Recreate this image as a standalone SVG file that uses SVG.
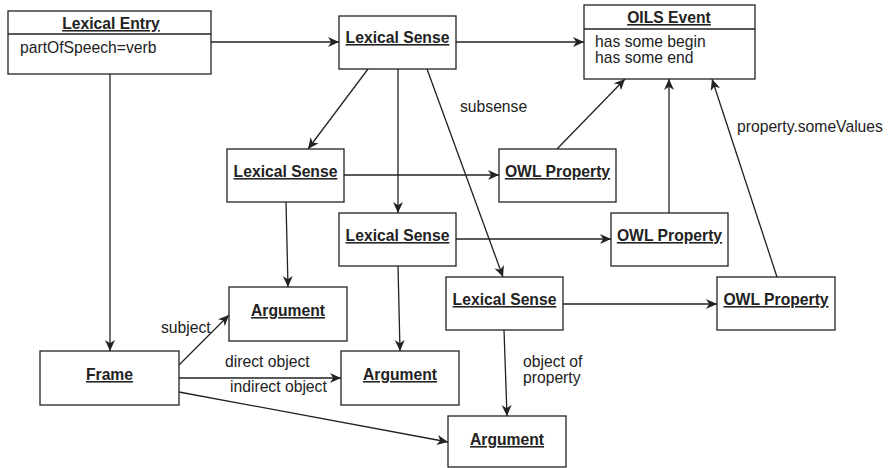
<svg xmlns="http://www.w3.org/2000/svg" width="891" height="468" viewBox="0 0 891 468">
<style>
.box{fill:#fff;stroke:#222;stroke-width:1.3}
.t{font-family:"Liberation Sans",Arial,sans-serif;font-size:15.7px;fill:#222}
.b{font-weight:bold;text-decoration:underline;text-anchor:middle}
.c{fill:none;stroke:#222;stroke-width:1.3;marker-end:url(#ah)}
.p{fill:none;stroke:#222;stroke-width:1.3}
</style>
<defs>
<marker id="ah" markerWidth="13" markerHeight="11" refX="11" refY="5.5" orient="auto" markerUnits="userSpaceOnUse">
<path d="M0,0.5 L11,5.5 L0,10.5 L3.2,5.5 z" fill="#222"/>
</marker>
</defs>
<rect width="891" height="468" fill="#fff"/>
<g id="connectors">
<line class="c" x1="211" y1="42" x2="339" y2="42"/>
<line class="c" x1="456" y1="42" x2="584" y2="42"/>
<line class="c" x1="368" y1="69" x2="308" y2="149"/>
<line class="c" x1="398" y1="69" x2="398" y2="213"/>
<line class="c" x1="427" y1="69" x2="503" y2="277"/>
<line class="c" x1="344" y1="175" x2="499" y2="175"/>
<line class="c" x1="456" y1="239" x2="611" y2="239"/>
<line class="c" x1="563" y1="304" x2="717" y2="304"/>
<line class="c" x1="557" y1="149" x2="625" y2="79"/>
<line class="c" x1="669" y1="213" x2="669" y2="79"/>
<line class="c" x1="777" y1="277" x2="712" y2="79"/>
<line class="c" x1="286" y1="202" x2="288" y2="287"/>
<line class="c" x1="398" y1="266" x2="400" y2="351"/>
<line class="c" x1="504" y1="330" x2="507" y2="416"/>
<line class="c" x1="110" y1="74" x2="110" y2="351"/>
<line class="c" x1="179" y1="365" x2="229" y2="315"/>
<line class="c" x1="179" y1="378" x2="341" y2="378"/>
<line class="c" x1="179" y1="392" x2="448" y2="442"/>
<text class="t" x="460" y="112">subsense</text>
<text class="t" x="737" y="132">property.someValues</text>
<text class="t" x="161" y="333">subject</text>
<text class="t" x="225" y="367">direct object</text>
<text class="t" x="230" y="392">indirect object</text>
<text class="t" x="523" y="367">object of</text>
<text class="t" x="523" y="383">property</text>
</g>
<g id="lexical-entry">
<rect class="box" x="8" y="11" width="203" height="63"/>
<line class="p" x1="8" y1="34" x2="211" y2="34"/>
<text class="t b" x="111" y="29">Lexical Entry</text>
<text class="t" x="20" y="53">partOfSpeech=verb</text>
</g>
<g id="lexical-sense-top">
<rect class="box" x="339" y="16" width="117" height="53"/>
<text class="t b" x="397.5" y="43">Lexical Sense</text>
</g>
<g id="oils-event">
<rect class="box" x="584" y="5" width="171" height="74"/>
<line class="p" x1="584" y1="29" x2="755" y2="29"/>
<text class="t b" x="669" y="23">OILS Event</text>
<text class="t" x="595" y="47">has some begin</text>
<text class="t" x="595" y="63">has some end</text>
</g>
<g id="lexical-sense-2">
<rect class="box" x="227" y="149" width="117" height="53"/>
<text class="t b" x="285.5" y="177">Lexical Sense</text>
</g>
<g id="owl-property-1">
<rect class="box" x="499" y="149" width="117" height="53"/>
<text class="t b" x="557.5" y="177">OWL Property</text>
</g>
<g id="lexical-sense-3">
<rect class="box" x="339" y="213" width="117" height="53"/>
<text class="t b" x="397.5" y="241">Lexical Sense</text>
</g>
<g id="owl-property-2">
<rect class="box" x="611" y="213" width="117" height="53"/>
<text class="t b" x="669.5" y="241">OWL Property</text>
</g>
<g id="lexical-sense-4">
<rect class="box" x="446" y="277" width="117" height="53"/>
<text class="t b" x="504.5" y="305">Lexical Sense</text>
</g>
<g id="owl-property-3">
<rect class="box" x="717" y="277" width="118" height="53"/>
<text class="t b" x="776" y="305">OWL Property</text>
</g>
<g id="argument-1">
<rect class="box" x="229" y="287" width="118" height="54"/>
<text class="t b" x="288" y="316">Argument</text>
</g>
<g id="frame">
<rect class="box" x="40" y="351" width="139" height="54"/>
<text class="t b" x="109.5" y="380">Frame</text>
</g>
<g id="argument-2">
<rect class="box" x="341" y="351" width="118" height="54"/>
<text class="t b" x="400" y="380">Argument</text>
</g>
<g id="argument-3">
<rect class="box" x="448" y="416" width="118" height="51"/>
<text class="t b" x="507" y="445">Argument</text>
</g>
</svg>
